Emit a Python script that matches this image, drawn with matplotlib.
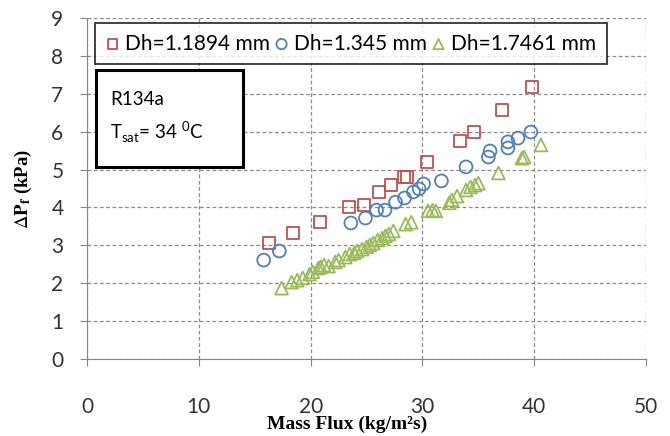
import matplotlib.pyplot as plt
from matplotlib.patches import Rectangle

# Dh = 1.1894 mm
flux_a = [16.3, 18.4, 20.8, 23.4, 24.8, 26.1, 27.2, 28.35, 28.6, 30.4, 33.4, 34.6, 37.1, 39.8]
dp_a = [3.06, 3.32, 3.61, 4.01, 4.06, 4.41, 4.59, 4.80, 4.80, 5.20, 5.75, 5.99, 6.57, 7.18]

# Dh = 1.345 mm
flux_b = [15.8, 17.2, 23.6, 24.9, 25.9, 26.65, 27.6, 28.4, 29.2, 29.7, 30.1, 31.7, 33.9,
          35.9, 36.05, 37.65, 37.65, 38.55, 39.7]
dp_b = [2.61, 2.85, 3.59, 3.72, 3.93, 3.93, 4.14, 4.25, 4.41, 4.49, 4.62, 4.70, 5.07,
        5.33, 5.49, 5.57, 5.73, 5.83, 5.99]

# Dh = 1.7461 mm
flux_c = [17.4, 18.3, 18.8, 19.3, 19.9, 20.2, 20.7, 20.9, 21.2, 21.6, 22.2, 22.5, 23.1, 23.5,
          23.9, 24.15, 24.6, 25.0, 25.3, 25.6, 26.0, 26.4, 26.7, 27.0, 27.4, 28.5, 29.0,
          30.5, 30.9, 31.2, 32.4, 32.65, 33.1, 33.9, 34.3, 34.7, 35.0, 36.8, 38.9, 39.1, 40.6]
dp_c = [1.87, 2.03, 2.08, 2.14, 2.24, 2.30, 2.40, 2.43, 2.48, 2.45, 2.56, 2.61, 2.69, 2.77,
        2.80, 2.85, 2.90, 2.96, 3.01, 3.06, 3.14, 3.19, 3.25, 3.30, 3.38, 3.56, 3.61,
        3.91, 3.93, 3.91, 4.12, 4.20, 4.30, 4.46, 4.54, 4.59, 4.64, 4.91, 5.30, 5.33, 5.65]

labels = ['Dh=1.1894 mm', 'Dh=1.345 mm', 'Dh=1.7461 mm']
colors = ['#C0504D', '#4F81BD', '#9BBB59']

plt.rcParams['font.family'] = ['Lato', 'DejaVu Sans']

fig = plt.figure(figsize=(6.7, 4.36), dpi=100)
ax = fig.add_axes([0.1299, 0.1766, 0.8343, 0.7821])

ax.scatter(flux_a, dp_a, marker='s', s=75, facecolors='none', edgecolors=colors[0],
           linewidths=1.3, label=labels[0], zorder=3)
ax.scatter(flux_b, dp_b, marker='o', s=85, facecolors='none', edgecolors=colors[1],
           linewidths=1.3, label=labels[1], zorder=3)
ax.scatter(flux_c, dp_c, marker='^', s=85, facecolors='none', edgecolors=colors[2],
           linewidths=1.3, label=labels[2], zorder=3)

ax.set_xlim(0, 50)
ax.set_ylim(0, 9)
ax.set_xticks(range(0, 51, 10))
ax.set_yticks(range(0, 10))
ax.grid(True, linestyle=(0, (3, 2)), color='#8c8c8c', linewidth=0.9)
ax.set_axisbelow(True)

for s in ['top', 'right']:
    ax.spines[s].set_visible(False)
for s in ['left', 'bottom']:
    ax.spines[s].set_color('#868686')
ax.tick_params(axis='both', colors='#868686', labelcolor='#333333', labelsize=15,
               direction='out', length=5)
ax.tick_params(axis='x', pad=22)
ax.tick_params(axis='y', pad=12)

ax.set_xlabel('Mass Flux (kg/m²s)', family='Liberation Serif', fontweight='bold',
              fontsize=14, labelpad=0)
ax.xaxis.set_label_coords(0.465, -0.165)
ax.set_ylabel(r'$\Delta\mathbf{P_f}$ (kPa)', family='Liberation Serif', math_fontfamily='stix',
              fontweight='bold', fontsize=13.5)
ax.yaxis.set_label_coords(-0.095, 0.5)

leg = ax.legend(loc='upper left', bbox_to_anchor=(0.014, 0.985), ncol=3, fontsize=15,
                frameon=True, fancybox=False, handletextpad=0.25, columnspacing=0.2,
                borderpad=0.5, handlelength=0.7, borderaxespad=0, markerscale=0.8)
leg.get_frame().set_edgecolor('black')
leg.get_frame().set_linewidth(1.3)

ax.add_patch(Rectangle((0.016, 0.563), 0.263, 0.284, transform=ax.transAxes,
                       facecolor='white', edgecolor='black', linewidth=2.2, zorder=4))
ax.text(0.041, 0.76, 'R134a', transform=ax.transAxes, fontsize=13.5, va='center', zorder=5)
ax.text(0.041, 0.665, r'T$_{\mathregular{sat}}$= 34 $^{\mathregular{0}}$C', transform=ax.transAxes,
        fontsize=13.5, va='center', zorder=5)

fig.savefig('out.png', dpi=100)
